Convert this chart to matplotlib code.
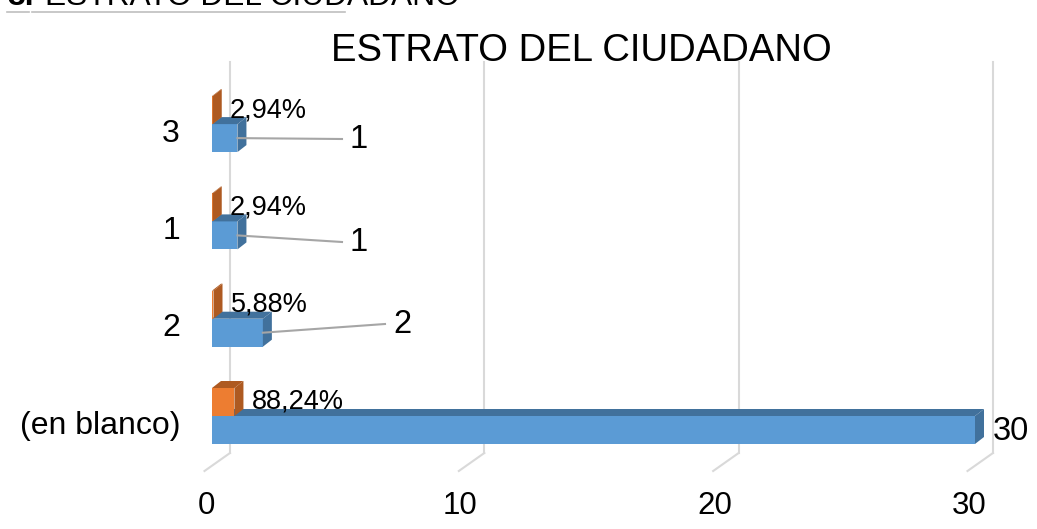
import matplotlib
matplotlib.use("Agg")
import matplotlib.pyplot as plt
from matplotlib.patches import Polygon

plt.rcParams['font.family'] = ['Liberation Sans', 'DejaVu Sans']

# data (bottom to top, as Excel draws it)
categories = ["(en blanco)", "2", "1", "3"]
counts = [30, 2, 1, 1]
percents = [0.8824, 0.0588, 0.0294, 0.0294]
pct_labels = ["88,24%", "5,88%", "2,94%", "2,94%"]
xticks = [0, 10, 20, 30]

W, H = 1037, 529
fig = plt.figure(figsize=(W / 100, H / 100), dpi=100)

# whole-figure axes, pixel scale chosen so value 0 -> x=212px, 30 -> x=975px
PXV = 763 / 30.0          # pixels per unit value
PXC = 97.3                # pixels per category
x0, ybase = 212, 99       # px position of value 0 / category 0 (from bottom)
ax = fig.add_axes([0, 0, 1, 1])
ax.set_xlim(-x0 / PXV, (W - x0) / PXV)
ax.set_ylim(-ybase / PXC, (H - ybase) / PXC)
ax.axis('off')

DX = 1 / PXV
DY = 1 / PXC

def ypx(top_px):
    # pixel measured from top -> data y
    return (H - top_px - ybase) / PXC

bh = 28 * DY              # bar thickness
ddx, ddy = 9 * DX, 7 * DY # 3D depth of the bars

blue, blue_dk = "#5B9BD5", "#41719C"
orange, orange_dk = "#ED7D31", "#AE5A21"
grid_c = "#D9D9D9"

# back wall + floor gridlines
for v in xticks:
    bx = v + 18 * DX
    ax.plot([bx, bx], [ypx(453), ypx(62)], color=grid_c, lw=1.5, zorder=1)
    ax.plot([bx, v - 7.5 * DX], [ypx(453), ypx(471)], color=grid_c, lw=1.5, zorder=1)
    ax.text(v - 6 * DX, ypx(506), str(v), ha='center', va='center', fontsize=22.5, color='#000000')


def box3d(val, y0, face, dark, z):
    ax.barh(y0 + bh / 2, val, height=bh, left=0, color=face, edgecolor='none', zorder=z)
    top = [(0, y0 + bh), (val, y0 + bh), (val + ddx, y0 + bh + ddy), (ddx, y0 + bh + ddy)]
    side = [(val, y0), (val + ddx, y0 + ddy), (val + ddx, y0 + bh + ddy), (val, y0 + bh)]
    ax.add_patch(Polygon(top, closed=True, facecolor=dark, edgecolor='none', zorder=z))
    ax.add_patch(Polygon(side, closed=True, facecolor=dark, edgecolor='none', zorder=z))


for i, (c, p) in enumerate(zip(counts, percents)):
    box3d(c, i - bh / 2, blue, blue_dk, 3 + i * 2)
    box3d(p, i + bh / 2, orange, orange_dk, 4 + i * 2)
    ax.text(p + 17 * DX, i + bh, pct_labels[i], ha='left', va='center', fontsize=19.5, zorder=20)
    ax.text(-32 * DX, i + 0.045, categories[i], ha='right', va='center', fontsize=23)

# count labels (with leader lines where Excel moved them)
label_pos = {0: None, 1: (385, 324), 2: (342, 242), 3: (342, 139)}
for i, c in enumerate(counts):
    pos = label_pos[i]
    if pos is None:
        ax.text(c + 18 * DX, i - 0.02, str(c), ha='left', va='center', fontsize=23.5, zorder=20)
        continue
    lx = (pos[0] - x0) * DX
    ly = ypx(pos[1])
    ax.plot([c, lx], [i, ly], color='#A6A6A6', lw=1.5, zorder=15)
    ax.text(lx + 8 * DX, ly - 0.01, str(c), ha='left', va='center', fontsize=23.5, zorder=20)

# chart title
fig.text(581 / W, 1 - 51 / H, "ESTRATO DEL CIUDADANO", ha='center', va='center', fontsize=27.5)

# heading of the document, cut off at the top edge
fig.text(7 / W, 1 - 5 / H, "3.", ha='left', va='baseline', fontsize=23, fontweight='bold')
fig.text(45 / W, 1 - 5 / H, "ESTRATO DEL CIUDADANO", ha='left', va='baseline', fontsize=22.8)
fig.add_artist(plt.Line2D([7 / W, 29 / W], [1 - 11.5 / H] * 2, color='#BFBFBF', lw=1.2))
fig.add_artist(plt.Line2D([32 / W, 345 / W], [1 - 11.5 / H] * 2, color='#BFBFBF', lw=1.2))

fig.savefig("out.png", dpi=100)
